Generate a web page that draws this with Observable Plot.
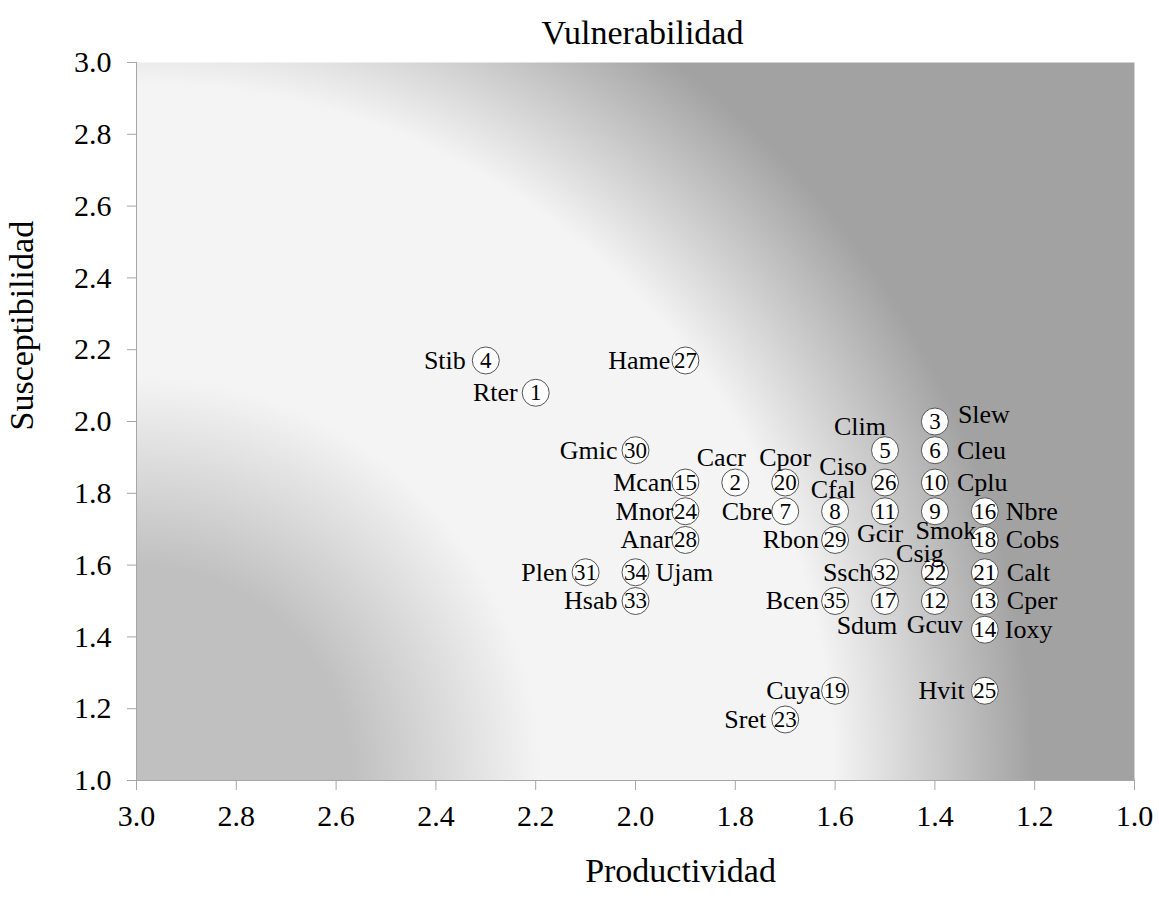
<!DOCTYPE html>
<html><head><meta charset="utf-8">
<script src="https://cdn.jsdelivr.net/npm/d3@7"></script>
<script src="https://cdn.jsdelivr.net/npm/@observablehq/plot@0.6"></script>
<style>body{margin:0;background:#fff}</style>
</head><body><div id="chart"></div>
<script>
const ids = [1,2,3,4,5,6,7,8,9,10,11,12,13,14,15,16,17,18,19,20,21,22,23,24,25,26,27,28,29,30,31,32,33,34,35];
const species = ["Rter","Cacr","Slew","Stib","Clim","Cleu","Cbre","Cfal","Smok","Cplu","Gcir","Gcuv","Cper","Ioxy","Mcan","Nbre","Sdum","Cobs","Cuya","Cpor","Calt","Csig","Sret","Mnor","Hvit","Ciso","Hame","Anar","Rbon","Gmic","Plen","Ssch","Hsab","Ujam","Bcen"];
const productividad = [2.2,1.8,1.4,2.3,1.5,1.4,1.7,1.6,1.4,1.4,1.5,1.4,1.3,1.3,1.9,1.3,1.5,1.3,1.6,1.7,1.3,1.4,1.7,1.9,1.3,1.5,1.9,1.9,1.6,2.0,2.1,1.5,2.0,2.0,1.6];
const susceptibilidad = [2.08,1.83,2.00,2.17,1.92,1.92,1.75,1.75,1.75,1.83,1.75,1.50,1.50,1.42,1.83,1.75,1.50,1.67,1.25,1.83,1.58,1.58,1.17,1.75,1.25,1.83,2.17,1.67,1.67,1.92,1.58,1.58,1.50,1.58,1.50];
const xTicks = [3.0,2.8,2.6,2.4,2.2,2.0,1.8,1.6,1.4,1.2,1.0];
const yTicks = [1.0,1.2,1.4,1.6,1.8,2.0,2.2,2.4,2.6,2.8,3.0];
const titleText = "Vulnerabilidad";
const xTitle = "Productividad";
const yTitle = "Susceptibilidad";

// label layout (pixel offsets from the point, text anchor)
const labelLayout = {
  Rter:[-18,0,"end"], Cacr:[-14,-25,"middle"], Slew:[23,-7,"start"], Stib:[-20,0,"end"],
  Clim:[-25,-24,"middle"], Cleu:[22,0,"start"], Cbre:[-13,0,"end"], Cfal:[-2,-22,"middle"],
  Smok:[11,19,"middle"], Cplu:[22,0,"start"], Gcir:[-5,22,"middle"], Gcuv:[0,24,"middle"],
  Cper:[22,0,"start"], Ioxy:[20,0,"start"], Mcan:[-13,0,"end"], Nbre:[21,0,"start"],
  Sdum:[-18,25,"middle"], Cobs:[21,0,"start"], Cuya:[-14,0,"end"], Cpor:[0,-25,"middle"],
  Calt:[22,0,"start"], Csig:[-15,-19,"middle"], Sret:[-19,0,"end"], Mnor:[-12,0,"end"],
  Hvit:[-20,0,"end"], Ciso:[-18,-16,"end"], Hame:[-15,0,"end"], Anar:[-13,0,"end"],
  Rbon:[-16,0,"end"], Gmic:[-18,0,"end"], Plen:[-18,0,"end"], Ssch:[-13,0,"end"],
  Hsab:[-18,0,"end"], Ujam:[20,0,"start"], Bcen:[-16,0,"end"]
};

const data = ids.map((id, i) => ({id, sp: species[i], p: productividad[i], s: susceptibilidad[i]}));

const labelMarks = d3.groups(data, d => labelLayout[d.sp].join("|")).map(([key, rows]) => {
  const [dx, dy, anchor] = labelLayout[rows[0].sp];
  return Plot.text(rows, {x: "p", y: "s", text: "sp", dx, dy, textAnchor: anchor, fontSize: 26, fill: "black"});
});

const fmt = d => d.toFixed(1);

const chart = Plot.plot({
  width: 1159, height: 900,
  marginLeft: 136, marginRight: 25, marginTop: 62, marginBottom: 120,
  style: {fontFamily: "'Liberation Serif', 'Times New Roman', serif", background: "white", color: "black"},
  x: {domain: [3, 1]},
  y: {domain: [1, 3]},
  marks: [
    Plot.frame({fill: "url(#bg)"}),
    Plot.ruleX([3], {stroke: "#a6a6a6"}),
    Plot.ruleY([1], {stroke: "#a6a6a6"}),
    Plot.axisX(xTicks, {tickFormat: fmt, tickSize: 10, tickPadding: 14, fontSize: 30, stroke: "#a6a6a6", fill: "black", label: null}),
    Plot.axisY(yTicks, {tickFormat: fmt, tickSize: 9, tickPadding: 16, fontSize: 30, stroke: "#a6a6a6", fill: "black", label: null}),
    Plot.dot(data, {x: "p", y: "s", r: 13.5, fill: "white", stroke: "#555", strokeWidth: 1}),
    Plot.text(data, {x: "p", y: "s", text: d => String(d.id), fontSize: 23, fill: "black"}),
    ...labelMarks,
    Plot.text([titleText], {frameAnchor: "top", dx: 7, dy: -43, fontSize: 34, fill: "black"}),
    Plot.text([xTitle], {frameAnchor: "bottom", dx: 45, dy: 101, fontSize: 34, fill: "black"}),
    Plot.text([yTitle], {frameAnchor: "left", rotate: -90, dx: -114, dy: 9, fontSize: 34, fill: "black"})
  ]
});

const cx = chart.scale("x").apply(3);
const cy = chart.scale("y").apply(1);
const ns = "http://www.w3.org/2000/svg";
const defs = document.createElementNS(ns, "defs");
defs.innerHTML = `<radialGradient id="bg" gradientUnits="userSpaceOnUse" cx="${cx}" cy="${cy}" r="897">
  <stop offset="0" stop-color="#c0c0c0"/>
  <stop offset="0.24" stop-color="#c0c0c0"/>
  <stop offset="0.45" stop-color="#f4f4f4"/>
  <stop offset="0.777" stop-color="#f4f4f4"/>
  <stop offset="1" stop-color="#a2a2a2"/>
</radialGradient>`;
chart.insertBefore(defs, chart.firstChild);
document.getElementById("chart").appendChild(chart);
</script>
</body></html>
